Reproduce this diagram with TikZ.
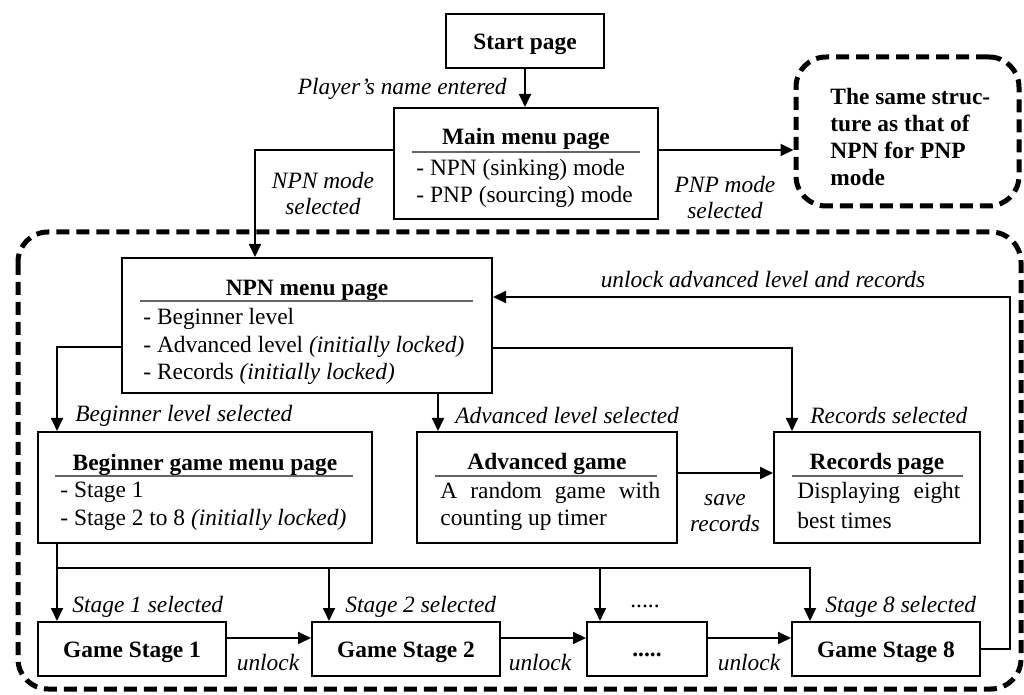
\documentclass[tikz,border=0pt]{standalone}
\usepackage{fontspec}
\setmainfont{Liberation Serif}
\usetikzlibrary{arrows.meta}
\begin{document}
\begin{tikzpicture}[x=0.5pt,y=-0.5pt,
  font=\fontsize{11.7}{13.7}\selectfont,
  box/.style={draw, line width=1pt, inner sep=0pt},
  arr/.style={line width=0.9pt, -{Triangle[length=6.5pt,width=6pt]}},
  ln/.style={line width=0.9pt},
  lbl/.style={font=\fontsize{11.7}{13}\selectfont\itshape, inner sep=0pt, yshift=-1.5pt},
  ttl/.style={font=\fontsize{11.7}{13.35}\selectfont\bfseries, inner sep=0pt, yshift=-1.5pt},
  txt/.style={inner sep=0pt, anchor=west, yshift=-1.2pt},
  rulel/.style={line width=0.7pt, draw=black!60},
  dashbox/.style={line width=2.5pt, dash pattern=on 6.5pt off 3.5pt, rounded corners=15pt}
]
\useasboundingbox (0,0) rectangle (1024,695);

% big dashed region
\draw[dashbox] (18,232) rectangle (1021,689);

% start and main
\node[box, minimum width=79pt, minimum height=27pt] (start) at (525,41) {};
\node[ttl] (startT) at (525,41) {Start page};
\node[box, minimum width=132pt, minimum height=55.5pt] (main) at (526,163.5) {};
\node[ttl] (mainT) at (526,136) {Main menu page};
\draw[rulel] (412,152) -- (640,152);
\node[txt] (mainA) at (416,168) {- NPN (sinking) mode};
\node[txt] (mainB) at (416,195) {- PNP (sourcing) mode};

% same structure box
\node[draw, dashbox, minimum width=111.5pt, minimum height=74.5pt] (same) at (907.5,131.5) {};
\node[ttl, anchor=west, align=left, yshift=1pt] (sameT) at (830,136) {The same struc-\\ture as that of\\NPN for PNP\\mode};

% NPN menu
\node[box, minimum width=185pt, minimum height=67.5pt] (npn) at (307,325.5) {};
\node[ttl] (npnT) at (307,287) {NPN menu page};
\draw[rulel] (140,301) -- (473,301);
\node[txt] (npnA) at (143,317) {- Beginner level};
\node[txt] (npnB) at (143,345) {- Advanced level \textit{(initially locked)}};
\node[txt] (npnC) at (143,372) {- Records \textit{(initially locked)}};

% Beginner game menu
\node[box, minimum width=167pt, minimum height=55.5pt] (beg) at (205,487.5) {};
\node[ttl] (begT) at (205,462) {Beginner game menu page};
\draw[rulel] (55,476) -- (353,476);
\node[txt] (begA) at (60,490) {- Stage 1};
\node[txt] (begB) at (60,518) {- Stage 2 to 8 \textit{(initially locked)}};

% Advanced game
\node[box, minimum width=130pt, minimum height=55.5pt] (adv) at (547,487.5) {};
\node[ttl] (advT) at (547,461) {Advanced game};
\draw[rulel] (435,476) -- (657,476);
\node[txt] (advA) at (440,491) {\makebox[110pt][s]{A random game with}};
\node[txt] (advB) at (440,518) {counting up timer};

% Records page
\node[box, minimum width=103pt, minimum height=55.5pt] (rec) at (877,487.5) {};
\node[ttl] (recT) at (877,461) {Records page};
\draw[rulel] (792,476) -- (963,476);
\node[txt] (recA) at (797,491) {\makebox[81.5pt][s]{Displaying eight}};
\node[txt] (recB) at (797,518) {best times};

% game stages
\node[box, minimum width=94pt, minimum height=27pt] (g1) at (132,649) {};
\node[box, minimum width=94pt, minimum height=27pt] (g2) at (406,649) {};
\node[box, minimum width=60pt, minimum height=27pt] (g3) at (647,649) {};
\node[box, minimum width=94pt, minimum height=27pt] (g8) at (886,649) {};
\node[ttl] (g1T) at (132,649) {Game Stage 1};
\node[ttl] (g2T) at (406,649) {Game Stage 2};
\node[ttl] (g3T) at (647,652) {.....};
\node[ttl] (g8T) at (886,649) {Game Stage 8};

% connectors
\draw[arr] (start.south) -- (start.south |- main.north);
\coordinate (m1) at ([yshift=6.75pt]main.west);
\coordinate (m2) at ([yshift=6.75pt]main.east);
\draw[arr] (m1) -| ([xshift=-26pt]npn.north);
\draw[arr] (m2) -- (m2 -| same.west);

\coordinate (n1) at ([yshift=-10.75pt]npn.west);
\coordinate (n2) at ([yshift=-11.25pt]npn.east);
\coordinate (n3) at ([xshift=65.5pt]npn.south);
\draw[arr] (n1) -| ([xshift=-74pt]beg.north);
\draw[arr] (n3) -- (n3 |- adv.north);
\draw[arr] (n2) -| ([xshift=-42.5pt]rec.north);

\coordinate (a1) at ([yshift=7.25pt]adv.east);
\draw[arr] (a1) -- (a1 -| rec.west);

\coordinate (b1) at ([xshift=-74pt]beg.south);
\coordinate (bus2) at (329,568);
\coordinate (bus3) at (600,568);
\coordinate (bus8) at (810,568);
\draw[arr] (b1) -- ([xshift=-37.5pt]g1.north);
\draw[arr] (b1 |- bus8) -- (bus8) -- ([xshift=-38pt]g8.north);
\draw[arr] (bus2) -- ([xshift=-38.5pt]g2.north);
\draw[arr] (bus3) -- ([xshift=-23.5pt]g3.north);

\draw[arr] ([yshift=5.5pt]g1.east) -- ([yshift=5.5pt]g2.west);
\draw[arr] ([yshift=5.5pt]g2.east) -- ([yshift=5.5pt]g3.west);
\draw[arr] ([yshift=5.5pt]g3.east) -- ([yshift=5.5pt]g8.west);

\coordinate (ret) at (1010,297);
\draw[arr] (g8.east) -| (ret) -- ([yshift=14.25pt]npn.east);

% labels
\node[lbl, anchor=east] (l1) at (507,86) {Player’s name entered};
\node[lbl, align=center] (l2) at (323,191) {NPN mode\\selected};
\node[lbl, align=center] (l3) at (725,195) {PNP mode\\selected};
\node[lbl, anchor=west] (l4) at (75,413) {Beginner level selected};
\node[lbl, anchor=west] (l5) at (455,413) {Advanced level selected};
\node[lbl, anchor=west] (l6) at (810,413) {Records selected};
\node[lbl, align=center] (l7) at (725,510) {save\\records};
\node[lbl, anchor=west] (l8) at (72,604) {Stage 1 selected};
\node[lbl, anchor=west] (l9) at (345,604) {Stage 2 selected};
\node[inner sep=0pt, yshift=-1.5pt] (l10) at (645,603) {.....};
\node[lbl, anchor=west] (l11) at (825,604) {Stage 8 selected};
\node[lbl] (l12) at (268,660) {unlock};
\node[lbl] (l13) at (540,660) {unlock};
\node[lbl] (l14) at (749,660) {unlock};
\node[lbl] (l15) at (763,277) {unlock advanced level and records};
\end{tikzpicture}
\end{document}
